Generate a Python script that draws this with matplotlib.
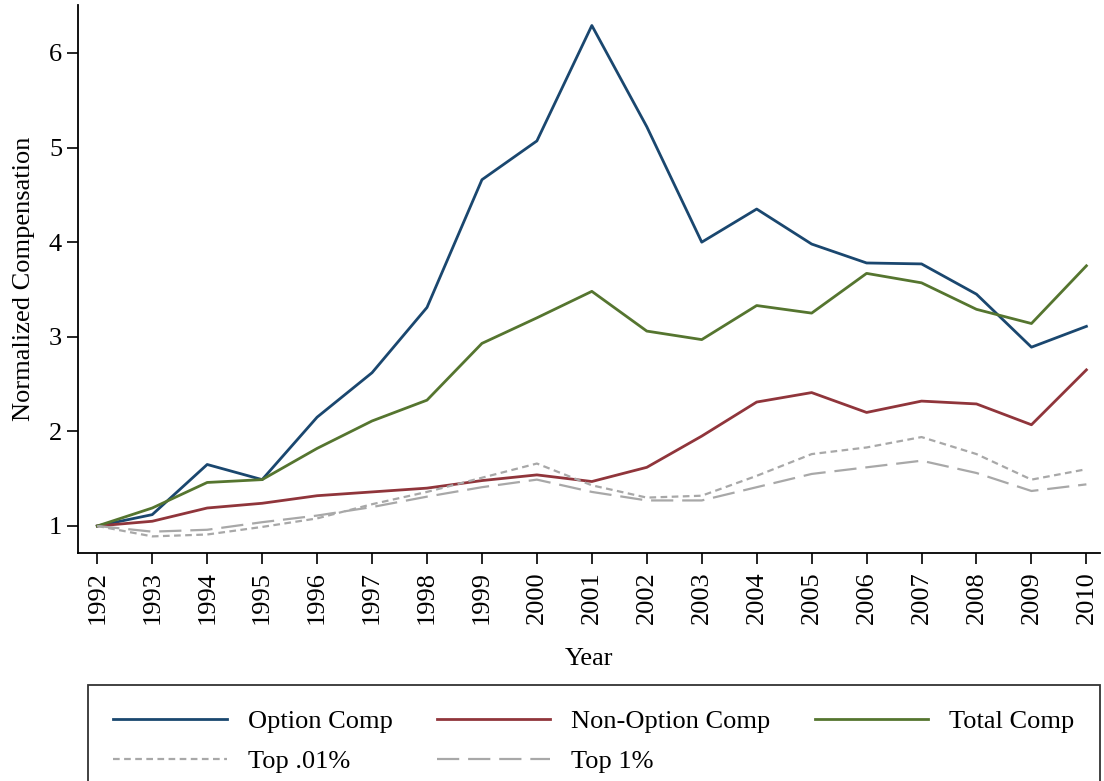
import matplotlib
matplotlib.use("Agg")
import matplotlib.pyplot as plt

years = list(range(1992, 2011))

option_comp = [1.00, 1.12, 1.65, 1.49, 2.15, 2.62, 3.31, 4.66, 5.07, 6.29,
               5.22, 4.00, 4.35, 3.98, 3.78, 3.77, 3.45, 2.89, 3.11]
nonoption_comp = [1.00, 1.05, 1.19, 1.24, 1.32, 1.36, 1.40, 1.48, 1.54, 1.47,
                  1.62, 1.95, 2.31, 2.41, 2.20, 2.32, 2.29, 2.07, 2.65]
total_comp = [1.00, 1.19, 1.46, 1.49, 1.82, 2.11, 2.33, 2.93, 3.20, 3.48,
              3.06, 2.97, 3.33, 3.25, 3.67, 3.57, 3.29, 3.14, 3.75]
top_001 = [1.00, 0.89, 0.91, 0.99, 1.08, 1.23, 1.36, 1.51, 1.66, 1.43,
           1.30, 1.32, 1.53, 1.76, 1.83, 1.94, 1.76, 1.49, 1.60]
top_1 = [1.00, 0.94, 0.96, 1.04, 1.11, 1.20, 1.31, 1.41, 1.49, 1.36,
         1.27, 1.27, 1.41, 1.55, 1.62, 1.69, 1.56, 1.37, 1.44]

plt.rcParams["font.family"] = ["Liberation Serif", "DejaVu Serif"]

fig = plt.figure(figsize=(11.04, 7.81), dpi=100)
ax = fig.add_axes([0.0707, 0.292, 0.9253, 0.702])

lw = 2.0
l1, = ax.plot(years, option_comp, color="#1a476f", lw=lw, label="Option Comp")
l2, = ax.plot(years, nonoption_comp, color="#90353b", lw=lw, label="Non-Option Comp")
l3, = ax.plot(years, total_comp, color="#55752f", lw=lw, label="Total Comp")
l4, = ax.plot(years, top_001, color="#a8a8a8", lw=1.6, dashes=(3, 2), label="Top .01%")
l5, = ax.plot(years, top_1, color="#a8a8a8", lw=1.6, dashes=(10, 4), label="Top 1%")

ax.set_xlim(1991.65, 2010.24)
ax.set_ylim(0.715, 6.51)
ax.set_xticks(years)
ax.set_xticklabels([str(y) for y in years], rotation=90, fontsize=19)
ax.set_yticks([1, 2, 3, 4, 5, 6])
ax.tick_params(axis="y", labelsize=19, length=8, width=1.2, direction="out")
ax.tick_params(axis="x", length=8, width=1.2, direction="out", pad=5)

for s in ["top", "right"]:
    ax.spines[s].set_visible(False)
for s in ["left", "bottom"]:
    ax.spines[s].set_linewidth(1.3)

ax.set_xlabel("Year", fontsize=19, labelpad=17)
ax.set_ylabel("Normalized Compensation", fontsize=19, labelpad=10)

# row-wise order for 3 columns
handles = [l1, l4, l2, l5, l3]
leg = fig.legend(handles, [h.get_label() for h in handles],
                 loc="upper left", bbox_to_anchor=(0.08, 0.123, 0.916, 0.0),
                 mode="expand", ncol=3, fontsize=19, handlelength=4.3,
                 frameon=True, fancybox=False, edgecolor="black",
                 borderpad=0.95, borderaxespad=0, labelspacing=0.6,
                 handletextpad=0.8)
leg.get_frame().set_linewidth(1.3)

fig.savefig("out.png", dpi=100)
